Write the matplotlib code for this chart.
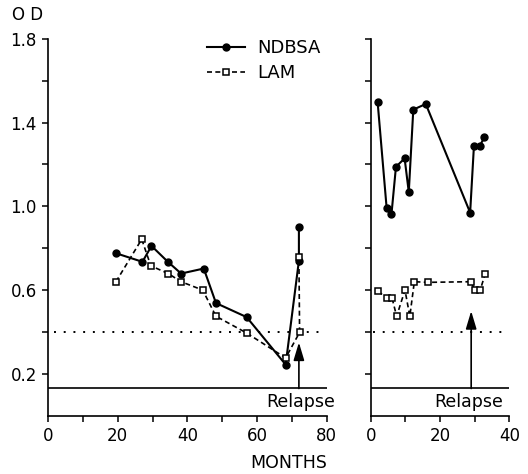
import matplotlib
matplotlib.use("Agg")
import matplotlib.pyplot as plt

plt.rcParams['font.family'] = ['DejaVu Sans']

# Left panel data (months, OD)
left_ndbsa_x = [19.5, 27.1, 29.7, 34.4, 38.2, 44.7, 48.2, 57.0, 68.2, 72.0, 72.0]
left_ndbsa_y = [0.776, 0.735, 0.811, 0.735, 0.679, 0.703, 0.538, 0.471, 0.244, 0.740, 0.902]
left_lam_x = [19.5, 26.9, 29.5, 34.5, 38.2, 44.4, 48.2, 57.0, 68.2, 72.2, 72.0]
left_lam_y = [0.640, 0.843, 0.716, 0.679, 0.640, 0.600, 0.475, 0.395, 0.276, 0.398, 0.760]

# Right panel data
right_ndbsa_x = [2.0, 4.6, 6.0, 7.3, 9.8, 11.0, 12.3, 15.9, 28.7, 29.8, 31.5, 32.8]
right_ndbsa_y = [1.500, 0.994, 0.962, 1.189, 1.229, 1.068, 1.462, 1.489, 0.970, 1.290, 1.290, 1.329]
right_lam_x = [2.2, 4.6, 6.2, 7.5, 9.9, 11.3, 12.6, 16.4, 29.0, 30.0, 31.6, 33.0]
right_lam_y = [0.595, 0.560, 0.560, 0.475, 0.600, 0.475, 0.640, 0.637, 0.640, 0.600, 0.600, 0.675]

cutoff = 0.4
relapse_level = 0.13
left_relapse_x = 72.0
right_relapse_x = 29.0
left_arrow_top = 0.35
right_arrow_top = 0.50

fig = plt.figure(figsize=(5.28, 4.74), dpi=100)
axL = fig.add_axes([0.0909, 0.123, 0.528, 0.795])
axR = fig.add_axes([0.702, 0.123, 0.2626, 0.795])

solid_kw = dict(color='black', lw=1.5, marker='o', markersize=5, markerfacecolor='black')
dash_kw = dict(color='black', lw=1.2, ls=(0, (3, 2)), marker='s', markersize=5,
               markerfacecolor='white', markeredgewidth=1.1)

for ax, xmax in ((axL, 80), (axR, 40)):
    ax.set_xlim(0, xmax)
    ax.set_ylim(0, 1.8)
    for s in ('top', 'right'):
        ax.spines[s].set_visible(False)
    ax.spines['left'].set_linewidth(1.2)
    ax.spines['bottom'].set_linewidth(1.2)
    ax.set_yticks([0.2, 0.4, 0.6, 0.8, 1.0, 1.2, 1.4, 1.6, 1.8])
    ax.set_xticks(list(range(0, xmax + 1, 10)))
    ax.tick_params(direction='out', length=4.5, width=1.1, labelsize=12)
    ax.axhline(cutoff, color='black', lw=1.4, ls=(0, (1, 4)), xmin=0.02, xmax=0.99)
    ax.axhline(relapse_level, color='black', lw=1.2)

axL.set_yticklabels(['0.2', '', '0.6', '', '1.0', '', '1.4', '', '1.8'])
axL.set_xticklabels(['0', '', '20', '', '40', '', '60', '', '80'])
axR.set_yticklabels([])
axR.set_xticklabels(['0', '', '20', '', '40'])

axL.plot(left_ndbsa_x, left_ndbsa_y, **solid_kw, label='NDBSA')
axL.plot(left_lam_x, left_lam_y, **dash_kw, label='LAM')
axR.plot(right_ndbsa_x, right_ndbsa_y, **solid_kw)
axR.plot(right_lam_x, right_lam_y, **dash_kw)

for ax, xr, top in ((axL, left_relapse_x, left_arrow_top), (axR, right_relapse_x, right_arrow_top)):
    ax.annotate('', xy=(xr, top), xytext=(xr, relapse_level),
                arrowprops=dict(arrowstyle='-|>,head_length=0.9,head_width=0.27', color='black',
                                lw=1.2, mutation_scale=12, shrinkA=0, shrinkB=0))

axL.text(82.4, 0.065, 'Relapse', ha='right', va='center', fontsize=12.5, clip_on=False)
axR.text(38.2, 0.065, 'Relapse', ha='right', va='center', fontsize=12.5, clip_on=False)

leg = axL.legend(loc='upper left', bbox_to_anchor=(0.57, 1.0), frameon=False,
                 fontsize=13, handlelength=2.1, handletextpad=0.7, labelspacing=0.4,
                 borderpad=0, borderaxespad=0)

fig.text(0.023, 0.968, 'O D', fontsize=12, ha='left', va='center')
fig.text(0.547, 0.023, 'MONTHS', fontsize=12.5, ha='center', va='center')

fig.savefig('out.png', dpi=100)
